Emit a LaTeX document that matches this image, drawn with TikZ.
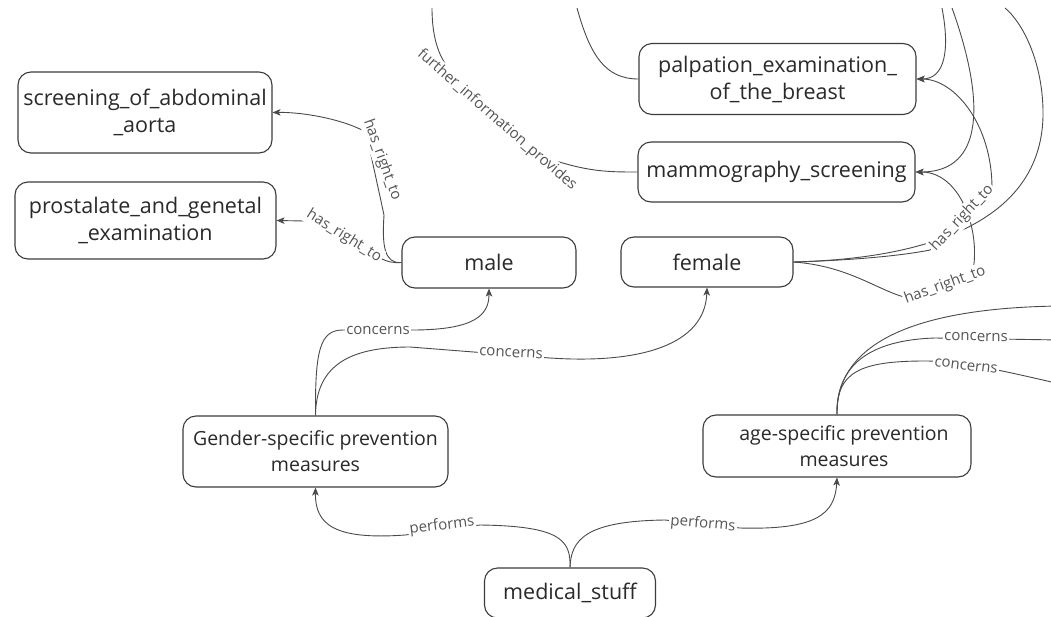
\documentclass[tikz,border=0pt]{standalone}
\usepackage{fontspec}
\setmainfont{Open Sans}
\usetikzlibrary{arrows.meta}
\definecolor{ln}{HTML}{4A4A4A}
\definecolor{bx}{HTML}{3C3C3C}
\definecolor{tx}{HTML}{2A2A2A}
\definecolor{lb}{HTML}{555555}
\begin{document}
\begin{tikzpicture}[x=1pt,y=-1pt,
  box/.style={draw=bx, line width=1.1pt, rounded corners=13pt, align=center, text=tx,
    font=\fontsize{21.5}{27}\selectfont, inner sep=0pt},
  smallbox/.style={box, font=\fontsize{19.5}{26}\selectfont},
  lab/.style={text=lb, font=\fontsize{15}{17}\selectfont, inner sep=1.5pt, fill=white},
  conn/.style={draw=ln, line width=0.9pt},
  arr/.style={conn, -{Stealth[length=8pt,width=6.5pt,inset=2pt]}},
]
\useasboundingbox (0,0) rectangle (1051,616);
\fill[white] (0,0) rectangle (1051,616);

% nodes
\node[box, minimum width=254pt, minimum height=81pt] (aorta) at (145,112.5) {screening\_of\_abdominal\\\_aorta};
\node[box, minimum width=261pt, minimum height=77pt] (prost) at (145.5,220.5) {prostalate\_and\_genetal\\\_examination};
\node[box, minimum width=277pt, minimum height=71pt] (palp) at (777.5,79) {palpation\_examination\_\\of\_the\_breast};
\node[box, minimum width=277pt, minimum height=60pt] (mammo) at (776.5,172) {mammography\_screening};
\node[box, minimum width=174pt, minimum height=51pt] (male) at (489,262.5) {male};
\node[box, minimum width=172pt, minimum height=50pt] (female) at (707,262) {female};
\node[smallbox, minimum width=265pt, minimum height=71pt] (gender) at (315.5,451.5) {Gender-specific prevention\\measures};
\node[smallbox, minimum width=268pt, minimum height=62pt] (age) at (837,446) {\hspace*{14pt}age-specific prevention\\\hspace*{14pt}measures};
\node[box, minimum width=171pt, minimum height=50pt] (medical) at (570,593) {medical\_stuff};

% free ends outside / at the border
\coordinate (t0) at (432,8);
\coordinate (t1) at (577,8);
\coordinate (t2) at (942,8);
\coordinate (t3) at (952,8);
\coordinate (t4) at (1005,8);
\coordinate (r1) at (1060,306);
\coordinate (r2) at (1060,340);
\coordinate (r3) at (1060,384);

% connectors
\draw[arr] (medical.north) .. controls (571,540) and (560,526) .. (480,525) -- (405,535)
  .. controls (335,540) and (315,525) .. (gender.south);
\draw[arr] (medical.north) .. controls (571,540) and (585,521) .. (665,520) -- (740,528)
  .. controls (815,530) and (835,515) .. (age.south);
\draw[arr] (gender.north) .. controls (315,350) and (320,330) .. (343,330) -- (412,330)
  .. controls (475,330) and (489,315) .. (male.south);
\draw[arr] (gender.north) .. controls (316,365) and (350,347) .. (410,347) -- (550,358)
  .. controls (640,364) and (705,345) .. (female.south);
\draw[conn] (age.north) .. controls (836,350) and (900,308) .. (r1);
\draw[conn] (age.north) .. controls (836,365) and (870,340) .. (935,338) -- (r2);
\draw[conn] (age.north) .. controls (836,372) and (860,361) .. (925,361)
  .. controls (960,361) and (1000,370) .. (r3);
\draw[arr] (male.west) .. controls (384,264) and (382,245) .. (384,215) -- (366,132)
  .. controls (340,118) and (300,112) .. (aorta.east);
\draw[arr] (male.west) .. controls (392,263) and (388,262) .. (380,258) -- (305,221)
  -- (prost.east);
\draw[arr] (female.east) .. controls (860,260) and (905,255) .. (930,250) -- (992,188)
  .. controls (992,125) and (955,79) .. (palp.east);
\draw[arr] (female.east) .. controls (850,266) and (880,292) .. (908,298) -- (972,275)
  .. controls (982,235) and (962,172) .. (mammo.east);
\draw[conn] (female.east) .. controls (950,258) and (1045,210) .. (1043,110)
  .. controls (1042,60) and (1022,22) .. (t4);
\draw[arr] (t2) .. controls (950,50) and (945,79) .. (palp.east);
\draw[arr] (t3) .. controls (985,100) and (985,172) .. (mammo.east);
\draw[conn] (t0) .. controls (432,40) and (440,60) .. (452,72) -- (553,160)
  .. controls (590,172) and (610,172) .. (mammo.west);
\draw[conn] (t1) .. controls (590,55) and (605,79) .. (palp.west);

% labels
\node[lab, rotate=7] (l1) at (442,526) {performs};
\node[lab, rotate=-5] (l2) at (703,524) {performs};
\node[lab] (l3) at (378,330) {concerns};
\node[lab, rotate=-3] (l4) at (511,353) {concerns};
\node[lab, rotate=-1] (l5) at (976,337) {concerns};
\node[lab, rotate=-7] (l6) at (966,366) {concerns};
\node[lab, rotate=-70] (l7) at (382,160) {has\_right\_to};
\node[lab, rotate=-32] (l8) at (344,236) {has\_right\_to};
\node[lab, rotate=47] (l9) at (962,218) {has\_right\_to};
\node[lab, rotate=20] (l10) at (945,285) {has\_right\_to};
\node[lab, rotate=-41] (l11) at (497,120) {further\_information\_provides};
\end{tikzpicture}
\end{document}
